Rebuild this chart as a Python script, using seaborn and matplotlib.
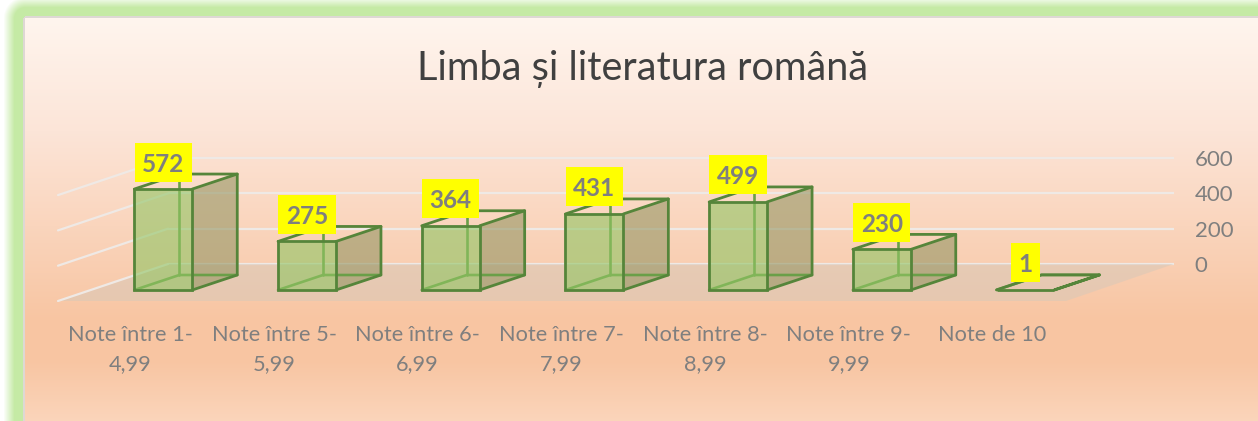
# %%
import numpy as np
import pandas as pd
import seaborn as sns
import matplotlib.pyplot as plt
from matplotlib.colors import to_rgba
from matplotlib.patches import Polygon, Rectangle
from matplotlib.transforms import ScaledTranslation, IdentityTransform

# %%
# Values
categories = ['Note între 1-\n4,99', 'Note între 5-\n5,99', 'Note între 6-\n6,99',
              'Note între 7-\n7,99', 'Note între 8-\n8,99', 'Note între 9-\n9,99',
              'Note de 10']
counts = [572, 275, 364, 431, 499, 230, 1]
y_ticks = [0, 200, 400, 600]
chart_title = 'Limba și literatura română'

# Layout in pixels of the 1258x421 picture
W, H = 1258, 421
px_per_cat = 143.7
px_per_unit = 0.1765
first_cat_x = 163.3
front_base_y = 290
back_base_y = 264
edge_col = '#55853a'
inner_col = '#6a9f48'

sns.set_theme(style='white')
plt.rcParams['font.family'] = ['Lato', 'DejaVu Sans']

fig = plt.figure(figsize=(W / 100, H / 100), dpi=100)

# %%
# Background: green glow round a peach gradient panel
bg_ax = fig.add_axes([0, 0, 1, 1])
bg_ax.set_axis_off()
stop_y = [18, 130, 320, 360, 421]
stop_r = [255, 252, 248, 248, 251]
stop_g = [245, 229, 197, 197, 213]
stop_b = [238, 216, 162, 162, 187]
rows = np.arange(H)
cols = np.arange(W)
img = np.ones((H, W, 3))
img[:, :, 0] = np.interp(rows, stop_y, stop_r)[:, None] / 255
img[:, :, 1] = np.interp(rows, stop_y, stop_g)[:, None] / 255
img[:, :, 2] = np.interp(rows, stop_y, stop_b)[:, None] / 255
xx, yy = np.meshgrid(cols, rows)
dist = np.hypot(np.clip(25 - xx, 0, None), np.clip(18 - yy, 0, None))
outside = dist > 0
glow = np.array([197, 234, 165]) / 255
fade = np.clip((dist - 11) / 11, 0, 1)[:, :, None]
img = np.where(outside[:, :, None], glow * (1 - fade) + fade, img)
edge = (dist > 0) & (dist <= 2)
img[edge] = np.array([222, 216, 212]) / 255
bg_ax.imshow(img, aspect='auto', extent=[0, W, H, 0], interpolation='bilinear')

# %%
# Back wall: real y axis with the gridlines, on the right
wall_left, wall_right = 168, 1174
wall_ax = fig.add_axes([wall_left / W, (H - back_base_y - 40 * px_per_unit) / H,
                        (wall_right - wall_left) / W, 680 * px_per_unit / H])
wall_ax.patch.set_alpha(0)
wall_ax.set_ylim(-40, 640)
wall_ax.set_xticks([])
wall_ax.set_yticks(y_ticks)
wall_ax.yaxis.tick_right()
wall_ax.tick_params(axis='y', length=0, pad=15, labelsize=16, labelcolor='#7f7f7f')
wall_ax.grid(axis='y', color='#efe9e5', linewidth=1.6)
sns.despine(ax=wall_ax, left=True, right=True, top=True, bottom=True)

# %%
# Front plane: bars from seaborn, category axis below
ax_left = first_cat_x - 0.5 * px_per_cat
ax = fig.add_axes([ax_left / W, (H - front_base_y) / H,
                   7 * px_per_cat / W, 600 * px_per_unit / H])
ax.patch.set_alpha(0)
df = pd.DataFrame({'category': categories, 'count': counts})
sns.barplot(data=df, x='category', y='count', width=0.403, ax=ax,
            color='#91c564', saturation=1,
            edgecolor=edge_col, linewidth=2.0, zorder=5)
ax.set_xlim(-0.5, 6.5)
ax.set_ylim(0, 600)
ax.set(xlabel='', ylabel='')
ax.set_yticks([])
ax.tick_params(axis='x', length=0, pad=25, labelsize=15.7, labelcolor='#7f7f7f')
shift = ScaledTranslation(-33 / 100, 0, fig.dpi_scale_trans)
for lab in ax.get_xticklabels():
    lab.set_transform(lab.get_transform() + shift)
    lab.set_linespacing(1.56)
sns.despine(ax=ax, left=True, right=True, top=True, bottom=True)

# depth of a bar, same oblique angle as the floor
depth_x = 45 / px_per_cat
depth_y = 15 / px_per_unit

# floor and left wall lines
floor_front = -(301 - front_base_y) / px_per_unit
floor_back = (front_base_y - back_base_y) / px_per_unit
left_front = (58 - first_cat_x) / px_per_cat
left_back = (wall_left - first_cat_x) / px_per_cat
right_front = (1066 - first_cat_x) / px_per_cat
right_back = (wall_right - first_cat_x) / px_per_cat
ax.add_patch(Polygon([(left_front, floor_front), (right_front, floor_front),
                      (right_back, floor_back), (left_back, floor_back)],
                     closed=True, facecolor='#d8c8b8', alpha=0.55, edgecolor='none',
                     clip_on=False, zorder=1))
for v in y_ticks:
    ax.plot([left_front, left_back], [floor_front + v, floor_back + v],
            color='#efe9e5', linewidth=1.6, clip_on=False, zorder=2)

# side, top and inner edges of each box
for bar in list(ax.patches):
    if not isinstance(bar, Rectangle):
        continue
    x0, x1 = bar.get_x(), bar.get_x() + bar.get_width()
    h = bar.get_height()
    bar.set_clip_on(False)
    bar.set_facecolor(to_rgba('#91c564', 0.6))
    ax.add_patch(Polygon([(x1, 0), (x1 + depth_x, depth_y), (x1 + depth_x, h + depth_y), (x1, h)],
                         closed=True, facecolor='#969664', alpha=0.6, edgecolor='none',
                         clip_on=False, zorder=4))
    ax.plot([x1, x1 + depth_x, x1 + depth_x, x1], [0, depth_y, h + depth_y, h],
            color=edge_col, linewidth=2.0, clip_on=False, zorder=6)
    ax.plot([x0, x0 + depth_x, x1 + depth_x], [h, h + depth_y, h + depth_y],
            color=edge_col, linewidth=2.0, clip_on=False, zorder=6)
    ax.plot([x0 + depth_x, x0 + depth_x], [depth_y, depth_y + h],
            color=inner_col, linewidth=1.9, clip_on=False, zorder=4)
    ax.plot([x0, x0 + depth_x, x1 + depth_x], [0, depth_y, depth_y],
            color=inner_col, linewidth=1.9, clip_on=False, zorder=4)

# yellow value boxes
renderer = fig.canvas.get_renderer()
for i, v in enumerate(counts):
    t = ax.text(i, v + 25 / px_per_unit, str(v), ha='center', va='center',
                fontsize=17.5, fontweight='bold', color='#7f7f7f',
                clip_on=False, zorder=9)
    bb = t.get_window_extent(renderer)
    cx = (bb.x0 + bb.x1) / 2
    cy = (H - front_base_y) + (v + 27 / px_per_unit) * px_per_unit
    bw = bb.width + 15
    ax.add_patch(Rectangle((cx - bw / 2, cy - 19.5), bw, 39, transform=IdentityTransform(),
                           facecolor='#ffff00', edgecolor='none', clip_on=False, zorder=8))

fig.text(643 / W, 1 - 69 / H, chart_title, ha='center', va='center',
         fontsize=28.6, color='#404040')

fig.savefig('out.png', dpi=100)
